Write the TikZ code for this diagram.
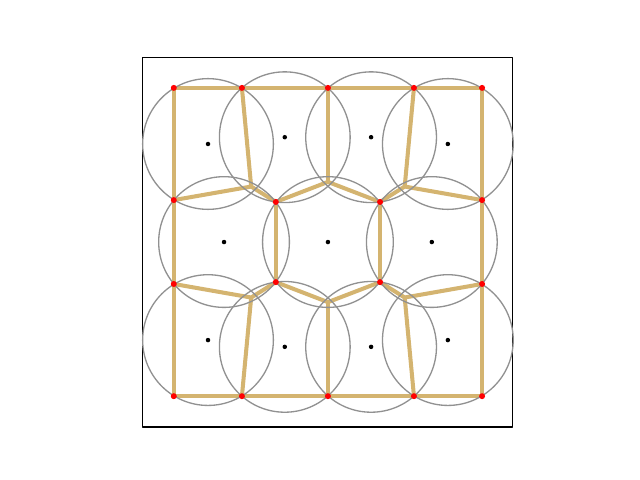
\documentclass[tikz,border=0pt]{standalone}
\usepackage{tikz}
\definecolor{edgetan}{RGB}{212,180,112}
\definecolor{ringgray}{RGB}{145,145,145}
\tikzset{
  every picture/.style={line join=round, line cap=round},
  edge/.style={edgetan, line width=2.3pt},
  ring/.style={ringgray, line width=0.75pt},
  vert/.style={circle, fill=red, inner sep=0pt, minimum size=0.12cm},
  site/.style={circle, fill=black, inner sep=0pt, minimum size=0.09cm},
}

\begin{document}
\begin{tikzpicture}[x=6.166cm,y=6.166cm]
\useasboundingbox (-0.5637,-0.2718) rectangle (1.5122,1.2851);
\draw[black,line width=0.6pt](-0.1,-0.1) rectangle (1.1,1.1);
% corners of the cells
\coordinate (t0) at (0.000,1.000);
\coordinate (t1) at (0.221,1.000);
\coordinate (t2) at (0.500,1.000);
\coordinate (t3) at (0.779,1.000);
\coordinate (t4) at (1.000,1.000);
\coordinate (b0) at (0.000,0.000);
\coordinate (b1) at (0.221,0.000);
\coordinate (b2) at (0.500,0.000);
\coordinate (b3) at (0.779,0.000);
\coordinate (b4) at (1.000,0.000);
\coordinate (l1) at (0.000,0.636);
\coordinate (l2) at (0.000,0.364);
\coordinate (r1) at (1.000,0.636);
\coordinate (r2) at (1.000,0.364);
\coordinate (i1) at (0.331,0.630);
\coordinate (i2) at (0.669,0.630);
\coordinate (i3) at (0.331,0.370);
\coordinate (i4) at (0.669,0.370);
% bends without dot
\coordinate (k1) at (0.251,0.680);
\coordinate (k2) at (0.500,0.695);
\coordinate (k3) at (0.749,0.680);
\coordinate (k4) at (0.251,0.320);
\coordinate (k5) at (0.500,0.305);
\coordinate (k6) at (0.749,0.320);
% edges
\draw[edge](t0)--(t1)--(t2)--(t3)--(t4);
\draw[edge](b0)--(b1)--(b2)--(b3)--(b4);
\draw[edge](t0)--(l1)--(l2)--(b0);
\draw[edge](t4)--(r1)--(r2)--(b4);
\draw[edge](t1)--(k1);
\draw[edge](l1)--(k1)--(i1);
\draw[edge](t2)--(k2);
\draw[edge](i1)--(k2)--(i2);
\draw[edge](t3)--(k3);
\draw[edge](i2)--(k3)--(r1);
\draw[edge](i1)--(i3);
\draw[edge](i2)--(i4);
\draw[edge](b1)--(k4);
\draw[edge](l2)--(k4)--(i3);
\draw[edge](b2)--(k5);
\draw[edge](i3)--(k5)--(i4);
\draw[edge](b3)--(k6);
\draw[edge](i4)--(k6)--(r2);
% circles and their centres
\foreach \n/\x/\y in {s1/0.111/0.818, s2/0.360/0.840, s3/0.640/0.840, s4/0.889/0.818,
                      s5/0.163/0.500, s6/0.500/0.500, s7/0.837/0.500,
                      s8/0.111/0.182, s9/0.360/0.160, s10/0.640/0.160, s11/0.889/0.182}{
  \draw[ring](\x,\y) circle (0.212);
  \node[site] (\n) at (\x,\y) {};
}
\foreach \v in {t0,t1,t2,t3,t4,b0,b1,b2,b3,b4,l1,l2,r1,r2,i1,i2,i3,i4}
  \node[vert] at (\v) {};
\end{tikzpicture}
\end{document}
